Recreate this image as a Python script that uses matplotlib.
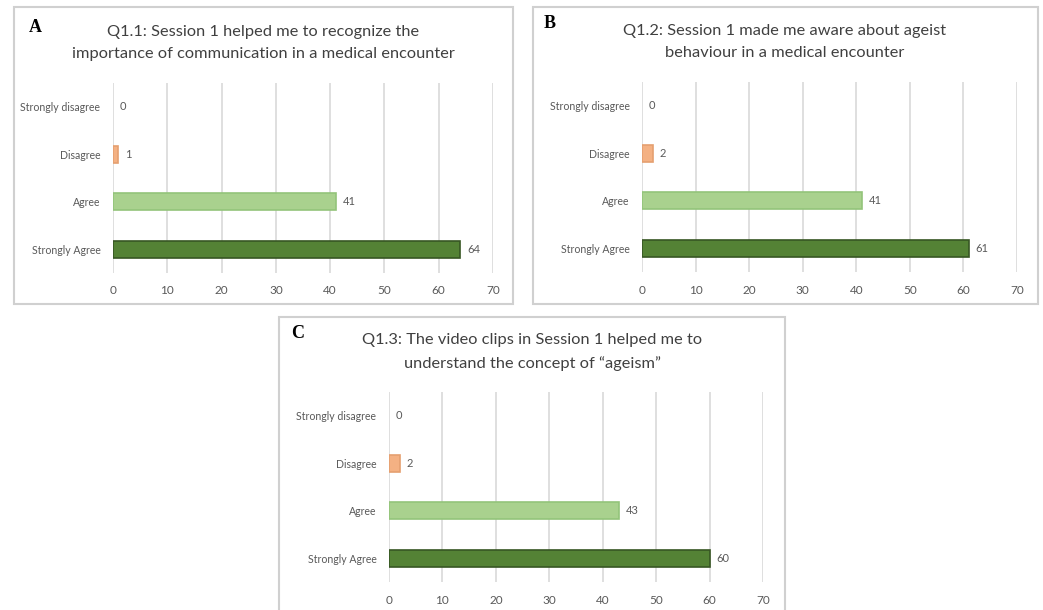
import matplotlib.pyplot as plt
from matplotlib.patches import Rectangle

categories = ["Strongly disagree", "Disagree", "Agree", "Strongly Agree"]
values_a = [0, 1, 41, 64]
values_b = [0, 2, 41, 61]
values_c = [0, 2, 43, 60]
titles = [
    "Q1.1: Session 1 helped me to recognize the\nimportance of communication in a medical encounter",
    "Q1.2: Session 1 made me aware about ageist\nbehaviour in a medical encounter",
    "Q1.3: The video clips in Session 1 helped me to\nunderstand the concept of \u201cageism\u201d",
]
letters = ["A", "B", "C"]
xticks = [0, 10, 20, 30, 40, 50, 60, 70]

bar_colors = ["#F4B183", "#F4B183", "#A9D18E", "#548235"]
edge_colors = ["#E5A070", "#E5A070", "#93C47A", "#375623"]
text_col = "#595959"

W, H = 1043, 610
fig = plt.figure(figsize=(W / 100, H / 100), dpi=100)
fig.patch.set_facecolor("white")


def px_box(x0, y0, x1, y1):
    # pixel box (top-left origin) -> figure fraction [l, b, w, h]
    return [x0 / W, 1 - y1 / H, (x1 - x0) / W, (y1 - y0) / H]


def panel(frame, plot, title, title_pos, letter, letter_pos, vals):
    l, b, w, h = px_box(*frame)
    fig.patches.append(Rectangle((l, b), w, h, transform=fig.transFigure,
                                 fill=False, edgecolor="#D0D0D0", lw=1.5))
    ax = fig.add_axes(px_box(*plot))
    ypos = list(range(len(categories)))
    widths = [1.2 if v > 0 else 0 for v in vals]
    ax.barh(ypos, vals, height=0.35, color=bar_colors,
            edgecolor=edge_colors, linewidth=widths, zorder=3)
    for y, v in zip(ypos, vals):
        ax.annotate(str(v), (v, y), xytext=(5, 0), textcoords="offset points",
                    ha="left", va="center", fontsize=8, color=text_col,
                    family="Lato")
    ax.set_xlim(0, 70)
    ax.set_ylim(3.5, -0.5)
    ax.set_xticks(xticks)
    ax.set_yticks(ypos)
    ax.set_yticklabels(categories, family="Lato", fontsize=7.6, color=text_col)
    for t in ax.get_xticklabels():
        t.set_family("Lato")
        t.set_fontsize(8.5)
        t.set_color(text_col)
    ax.tick_params(length=0)
    ax.tick_params(axis="y", pad=9)
    ax.tick_params(axis="x", pad=9)
    ax.grid(axis="x", color="#D9D9D9", lw=1.2, zorder=0)
    for s in ax.spines.values():
        s.set_visible(False)
    fig.text(title_pos[0] / W, 1 - title_pos[1] / H, title, ha="center",
             va="center", fontsize=11.8, color="#404040", family="Lato",
             linespacing=1.7)
    fig.text(letter_pos[0] / W, 1 - letter_pos[1] / H, letter, ha="center",
             va="center", fontsize=13, fontweight="bold",
             family="Liberation Serif", color="black")


panel((14, 7, 513, 304), (113, 83, 493, 273), titles[0], (263, 43),
      letters[0], (35, 27), values_a)
panel((533, 7, 1038, 304), (642, 82, 1017, 272), titles[1], (785, 42),
      letters[1], (550, 23), values_b)
panel((279, 317, 785, 640), (389, 392, 763, 582), titles[2], (532, 352),
      letters[2], (298, 333), values_c)

fig.savefig("out.png", dpi=100)
